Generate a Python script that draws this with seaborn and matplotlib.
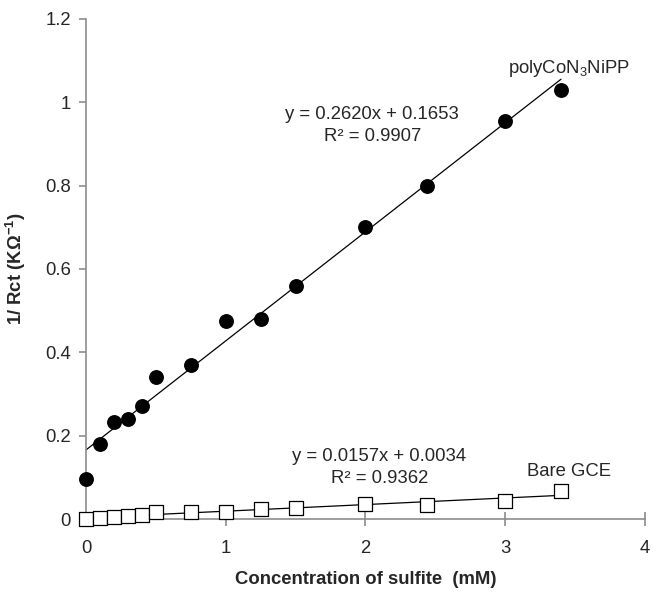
import numpy as np
import pandas as pd
import seaborn as sns
import matplotlib.pyplot as plt

conc = [0, 0.1, 0.2, 0.3, 0.4, 0.5, 0.75, 1.0, 1.25, 1.5, 2.0, 2.44, 3.0, 3.4]
poly_vals = [0.095, 0.18, 0.232, 0.24, 0.27, 0.34, 0.37, 0.475, 0.48, 0.56, 0.70, 0.80, 0.955, 1.03]
bare_vals = [0.001, 0.003, 0.004, 0.008, 0.010, 0.018, 0.016, 0.018, 0.024, 0.026, 0.037, 0.033, 0.043, 0.067]

df = pd.DataFrame({'conc': conc, 'poly': poly_vals, 'bare': bare_vals})

sns.set_style("white")
plt.rcParams['font.family'] = ['Liberation Sans', 'DejaVu Sans']
plt.rcParams['mathtext.fontset'] = 'custom'
plt.rcParams['mathtext.rm'] = 'Liberation Sans'
plt.rcParams['mathtext.bf'] = 'Liberation Sans:bold'

fs = 13.3

fig = plt.figure(figsize=(6.54, 5.92), dpi=100)
ax = fig.add_axes([0.1315, 0.1233, 0.8545, 0.8447])

# trendlines
sns.regplot(data=df, x='conc', y='poly', scatter=False, ci=None, color='black',
            line_kws={'lw': 0.9}, ax=ax)
sns.regplot(data=df, x='conc', y='bare', scatter=False, ci=None, color='black',
            line_kws={'lw': 0.9}, ax=ax)

sns.scatterplot(data=df, x='conc', y='poly', marker='o', s=115, color='black',
                edgecolor='black', linewidth=0, ax=ax, zorder=3, clip_on=False)
sns.scatterplot(data=df, x='conc', y='bare', marker='s', s=105, facecolor='white',
                edgecolor='black', linewidth=0.9, ax=ax, zorder=3, clip_on=False)

ax.set_xlim(0, 4)
ax.set_ylim(0, 1.2)
ax.set_xticks([0, 1, 2, 3, 4])
ax.set_xticklabels(['0', '1', '2', '3', '4'])
ax.set_yticks([0, 0.2, 0.4, 0.6, 0.8, 1.0, 1.2])
ax.set_yticklabels(['0', '0.2', '0.4', '0.6', '0.8', '1', '1.2'])

for side in ['top', 'right']:
    ax.spines[side].set_visible(False)
for side in ['left', 'bottom']:
    ax.spines[side].set_color('#8c8c8c')
    ax.spines[side].set_linewidth(1.2)

ax.tick_params(axis='y', direction='out', length=5, color='#8c8c8c', width=1.2,
               labelsize=fs, left=True, pad=6)
ax.tick_params(axis='x', direction='inout', length=10, color='#8c8c8c', width=1.2,
               labelsize=fs, bottom=True, pad=10)

ax.set_xlabel('Concentration of sulfite  (mM)', fontsize=fs, fontweight='bold', labelpad=10)
ax.set_ylabel(r'1/ Rct (K$\mathbf{\Omega}^{\mathbf{-1}}$)', fontsize=fs, fontweight='bold', labelpad=12)

ax.text(2.05, 0.970, 'y = 0.2620x + 0.1653', fontsize=fs, ha='center', va='center')
ax.text(2.05, 0.919, 'R² = 0.9907', fontsize=fs, ha='center', va='center')
ax.text(2.10, 0.151, 'y = 0.0157x + 0.0034', fontsize=fs, ha='center', va='center')
ax.text(2.10, 0.098, 'R² = 0.9362', fontsize=fs, ha='center', va='center')
ax.text(3.46, 1.08, r'polyCoN$_3$NiPP', fontsize=fs, ha='center', va='center')
ax.text(3.46, 0.113, 'Bare GCE', fontsize=fs, ha='center', va='center')

fig.savefig('out.png', dpi=100)
